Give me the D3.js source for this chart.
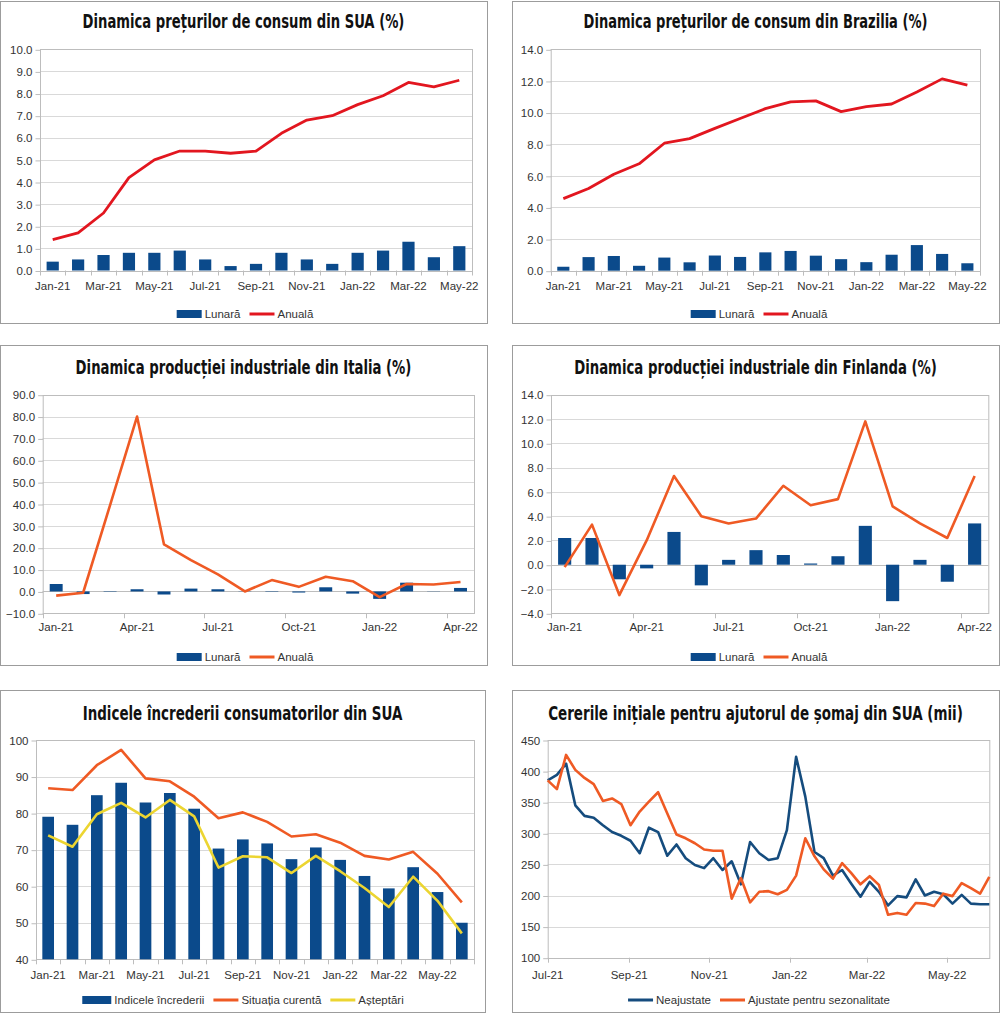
<!DOCTYPE html>
<html><head><meta charset="utf-8">
<script src="https://cdn.jsdelivr.net/npm/d3@7"></script>
<style>
body{margin:0;background:#fff;}
svg{display:block;font-family:"Liberation Sans",Arial,sans-serif;}
</style></head><body>
<svg id="c" width="1000" height="1013"></svg>
<script>
// ---------- DATA ----------
const usMonths = ["Jan-21","Feb-21","Mar-21","Apr-21","May-21","Jun-21","Jul-21","Aug-21","Sep-21","Oct-21","Nov-21","Dec-21","Jan-22","Feb-22","Mar-22","Apr-22","May-22"];
const usMonthly = [0.4,0.5,0.7,0.8,0.8,0.9,0.5,0.2,0.3,0.8,0.5,0.3,0.8,0.9,1.3,0.6,1.1];
const usAnnual  = [1.4,1.7,2.6,4.2,5.0,5.4,5.4,5.3,5.4,6.2,6.8,7.0,7.5,7.9,8.5,8.3,8.6];
const usYTicks  = [0,1,2,3,4,5,6,7,8,9,10];

const brMonths  = usMonths;
const brMonthly = [0.25,0.86,0.93,0.31,0.83,0.53,0.96,0.87,1.16,1.25,0.95,0.73,0.54,1.01,1.62,1.06,0.47];
const brAnnual  = [4.56,5.20,6.10,6.76,8.06,8.35,9.0,9.62,10.25,10.67,10.74,10.06,10.38,10.54,11.30,12.13,11.73];
const brYTicks  = [0,2,4,6,8,10,12,14];

const itMonths  = ["Jan-21","Feb-21","Mar-21","Apr-21","May-21","Jun-21","Jul-21","Aug-21","Sep-21","Oct-21","Nov-21","Dec-21","Jan-22","Feb-22","Mar-22","Apr-22"];
const itMonthly = [3.4,-1.2,0.2,1.0,-1.4,1.3,1.0,0.1,0.2,-0.5,1.9,-1.0,-3.4,4.0,0.1,1.6];
const itAnnual  = [-1.9,-0.6,39.5,80.0,21.5,14.3,7.8,0.0,5.2,2.1,6.7,4.7,-2.6,3.4,3.2,4.3];
const itYTicks  = [-10,0,10,20,30,40,50,60,70,80,90];

const fiMonths  = itMonths;
const fiMonthly = [2.2,2.2,-1.2,-0.3,2.7,-1.7,0.4,1.2,0.8,0.1,0.7,3.2,-3.0,0.4,-1.4,3.4];
const fiAnnual  = [-0.2,3.3,-2.5,2.0,7.3,4.0,3.4,3.8,6.5,4.9,5.4,11.8,4.8,3.4,2.2,7.3];
const fiYTicks  = [-4,-2,0,2,4,6,8,10,12,14];

const ccMonths  = ["Jan-21","Feb-21","Mar-21","Apr-21","May-21","Jun-21","Jul-21","Aug-21","Sep-21","Oct-21","Nov-21","Dec-21","Jan-22","Feb-22","Mar-22","Apr-22","May-22","Jun-22"];
const ccIndex   = [79.0,76.8,84.9,88.3,82.9,85.5,81.2,70.3,72.8,71.7,67.4,70.6,67.2,62.8,59.4,65.2,58.4,50.0];
const ccPresent = [86.8,86.3,93.1,97.3,89.5,88.7,84.5,78.6,80.2,77.6,73.6,74.2,71.9,68.3,67.3,69.4,63.4,55.6];
const ccExpect  = [73.9,70.8,79.7,82.8,78.8,83.6,79.1,65.1,68.2,67.9,63.6,68.3,64.1,59.5,54.3,62.6,56.0,47.1];
const ccYTicks  = [40,50,60,70,80,90,100];

const claimDates = ["2021-07-01","2021-07-08","2021-07-15","2021-07-22","2021-07-29",
  "2021-08-05","2021-08-12","2021-08-19","2021-08-26",
  "2021-09-02","2021-09-09","2021-09-16","2021-09-23","2021-09-30",
  "2021-10-07","2021-10-14","2021-10-21","2021-10-28",
  "2021-11-04","2021-11-11","2021-11-18","2021-11-25",
  "2021-12-02","2021-12-09","2021-12-16","2021-12-23","2021-12-30",
  "2022-01-06","2022-01-13","2022-01-20","2022-01-27",
  "2022-02-03","2022-02-10","2022-02-17","2022-02-24",
  "2022-03-03","2022-03-10","2022-03-17","2022-03-24","2022-03-31",
  "2022-04-07","2022-04-14","2022-04-21","2022-04-28",
  "2022-05-05","2022-05-12","2022-05-19","2022-05-26",
  "2022-06-02"];
const claimsNSA = [385,394,412,345,328,325,313,302,296,288,268,309,302,264,282,260,249,244,260,241,255,218,286,268,257,260,305,423,359,270,260,232,241,219,198,222,206,184,199,197,226,200,206,202,187,201,187,186,186];
const claimsSA  = [385,371,426,402,389,379,352,356,347,313,335,351,366,332,298,292,284,274,272,272,195,228,189,206,207,202,209,232,292,263,242,227,252,236,218,231,217,169,172,169,188,187,183,203,199,220,212,203,230];
const claimTickDates  = ["2021-07-01","2021-09-01","2021-11-01","2022-01-01","2022-03-01","2022-05-01"];
const claimTickLabels = ["Jul-21","Sep-21","Nov-21","Jan-22","Mar-22","May-22"];
const claimYTicks = [100,150,200,250,300,350,400,450];

// ---------- STYLE ----------
const BLUE = "#0b4a8b", RED = "#e2161f", ORANGE = "#ef5a24", YELLOW = "#ecd531", NAVY = "#154c7e";
const GRID = "#d9d9d9", FRAME = "#bdbdbd", BOX = "#9c9c9c", TXT = "#333";
const TITLE_FONT = '"Liberation Sans Narrow","Arial Narrow","DejaVu Sans Condensed",sans-serif';

const svg = d3.select("#c");

function drawPanel(o){
  const g = svg.append("g");
  const [bx,by,bw,bh] = o.box;
  g.append("rect").attr("x",bx+0.5).attr("y",by+0.5).attr("width",bw).attr("height",bh)
    .attr("fill","#fff").attr("stroke",BOX).attr("stroke-width",1);
  // title (horizontally condensed to match the reference's narrow face)
  const t = g.append("text").attr("x",0).attr("y",0)
    .attr("text-anchor","middle").attr("font-family",TITLE_FONT).attr("font-weight","bold")
    .attr("font-size",19).attr("fill","#111").text(o.title);
  const nat = t.node().getComputedTextLength();
  const sx = Math.min(1, o.titleW / nat);
  t.attr("transform",`translate(${bx+bw/2},${o.titleY}) scale(${sx},1)`);

  const [L,T,R,B] = o.plot;
  const y = d3.scaleLinear().domain(o.yDomain).range([B,T]);
  // grid
  g.append("g").selectAll("line").data(o.yTicks).join("line")
    .attr("x1",L).attr("x2",R).attr("y1",d=>Math.round(y(d))+0.5).attr("y2",d=>Math.round(y(d))+0.5)
    .attr("stroke",GRID).attr("stroke-width",1);
  // frame
  g.append("rect").attr("x",L+0.5).attr("y",Math.round(T)+0.5).attr("width",R-L).attr("height",Math.round(B)-Math.round(T))
    .attr("fill","none").attr("stroke",FRAME);
  // y axis ticks & labels
  const yAxis = d3.axisLeft(y).tickValues(o.yTicks).tickSize(5).tickPadding(3).tickFormat(o.yFormat);
  const ya = g.append("g").attr("transform",`translate(${L+0.5},0.5)`).call(yAxis);
  ya.select(".domain").remove();
  ya.selectAll("line").attr("stroke",FRAME);
  ya.selectAll("text").attr("font-size",11.5).attr("fill",TXT).attr("font-family","'Liberation Sans',Arial,sans-serif");

  let xPos, xs;
  if (o.categories){
    xs = d3.scaleBand().domain(o.categories).range([L,R]).paddingInner(0.52).paddingOuter(0.26);
    xPos = (c)=> xs(c) + xs.bandwidth()/2;
    const step = xs.step();
    const tickIdx = d3.range(0, o.categories.length+1, o.tickEvery);
    g.append("g").selectAll("line").data(tickIdx).join("line")
      .attr("x1",i=>Math.round(L+i*step)+0.5).attr("x2",i=>Math.round(L+i*step)+0.5)
      .attr("y1",B).attr("y2",B+5).attr("stroke",FRAME);
    g.append("g").selectAll("text").data(o.categories.filter((c,i)=>i%o.labelEvery===0)).join("text")
      .attr("x",c=>xPos(c)).attr("y",o.xLabelY).attr("text-anchor","middle")
      .attr("font-size",11.5).attr("fill",TXT).text(c=>c);
    if (o.yDomain[0] < 0){
      g.append("line").attr("x1",L).attr("x2",R).attr("y1",Math.round(y(0))+0.5).attr("y2",Math.round(y(0))+0.5)
        .attr("stroke",FRAME);
    }
    (o.bars||[]).forEach(s=>{
      g.append("g").selectAll("rect").data(s.values).join("rect")
        .attr("x",(d,i)=>xs(o.categories[i])).attr("width",xs.bandwidth())
        .attr("y",d=>y(Math.max(d, o.barBase)))
        .attr("height",d=>Math.abs(y(d)-y(o.barBase)))
        .attr("fill",s.color);
    });
    (o.lines||[]).forEach(s=>{
      const line = d3.line().x((d,i)=>xPos(o.categories[i])).y(d=>y(d));
      g.append("path").datum(s.values).attr("d",line).attr("fill","none")
        .attr("stroke",s.color).attr("stroke-width",s.width||2.6).attr("stroke-linejoin","round");
    });
  } else {
    const parse = d3.timeParse("%Y-%m-%d");
    const dates = o.dates.map(parse);
    const xt = d3.scaleTime().domain(d3.extent(dates)).range([L,R]);
    const tds = o.tickDates.map(parse);
    g.append("g").selectAll("line").data(tds).join("line")
      .attr("x1",d=>Math.round(xt(d))+0.5).attr("x2",d=>Math.round(xt(d))+0.5)
      .attr("y1",B).attr("y2",B+5).attr("stroke",FRAME);
    g.append("g").selectAll("text").data(tds).join("text")
      .attr("x",d=>xt(d)).attr("y",o.xLabelY).attr("text-anchor","middle")
      .attr("font-size",11.5).attr("fill",TXT).text((d,i)=>o.tickLabels[i]);
    (o.lines||[]).forEach(s=>{
      const line = d3.line().x((d,i)=>xt(dates[i])).y(d=>y(d));
      g.append("path").datum(s.values).attr("d",line).attr("fill","none")
        .attr("stroke",s.color).attr("stroke-width",s.width||2.6).attr("stroke-linejoin","round");
    });
  }

  // legend
  const lg = g.append("g");
  let cx = 0;
  o.legend.forEach(it=>{
    const sw = it.sw||25;
    const ig = lg.append("g").attr("transform",`translate(${cx},0)`);
    if (it.type==="bar") ig.append("rect").attr("x",0).attr("y",-4).attr("width",sw).attr("height",8).attr("fill",it.color);
    else ig.append("line").attr("x1",0).attr("x2",sw).attr("y1",0).attr("y2",0).attr("stroke",it.color).attr("stroke-width",3);
    const tx = ig.append("text").attr("x",sw+3).attr("y",4).attr("font-size",11.5).attr("fill",TXT).text(it.label);
    cx += sw + 3 + tx.node().getComputedTextLength() + 9;
  });
  const total = cx - 9;
  lg.attr("transform",`translate(${o.legendCX - total/2},${o.legendY})`);
}

const f1 = d3.format(".1f"), f0 = d3.format("d");

drawPanel({box:[0,1,487,322], title:"Dinamica prețurilor de consum din SUA (%)", titleY:28, titleW:322,
  plot:[40,49.3,472,270.5], yDomain:[0,10], yTicks:usYTicks, yFormat:f1,
  categories:usMonths, tickEvery:1, labelEvery:2, xLabelY:290, barBase:0,
  bars:[{values:usMonthly,color:BLUE}], lines:[{values:usAnnual,color:RED,width:2.8}],
  legend:[{type:"bar",color:BLUE,label:"Lunară"},{type:"line",color:RED,label:"Anuală"}], legendCX:245, legendY:314});

drawPanel({box:[512,1,487,322], title:"Dinamica prețurilor de consum din Brazilia (%)", titleY:28, titleW:344,
  plot:[550.7,49.3,980,270.7], yDomain:[0,14], yTicks:brYTicks, yFormat:f1,
  categories:brMonths, tickEvery:1, labelEvery:2, xLabelY:290, barBase:0,
  bars:[{values:brMonthly,color:BLUE}], lines:[{values:brAnnual,color:RED,width:2.8}],
  legend:[{type:"bar",color:BLUE,label:"Lunară"},{type:"line",color:RED,label:"Anuală"}], legendCX:759, legendY:314});

drawPanel({box:[0,345,487,320], title:"Dinamica producției industriale din Italia (%)", titleY:374, titleW:336,
  plot:[42.7,394.7,474,613.3], yDomain:[-10,90], yTicks:itYTicks, yFormat:f1,
  categories:itMonths, tickEvery:3, labelEvery:3, xLabelY:631, barBase:0,
  bars:[{values:itMonthly,color:BLUE}], lines:[{values:itAnnual,color:ORANGE,width:2.6}],
  legend:[{type:"bar",color:BLUE,label:"Lunară"},{type:"line",color:ORANGE,label:"Anuală"}], legendCX:245, legendY:657});

drawPanel({box:[512,345,487,320], title:"Dinamica producției industriale din Finlanda (%)", titleY:374, titleW:363,
  plot:[551,394.7,988.3,613.3], yDomain:[-4,14], yTicks:fiYTicks, yFormat:f1,
  categories:fiMonths, tickEvery:3, labelEvery:3, xLabelY:631, barBase:0,
  bars:[{values:fiMonthly,color:BLUE}], lines:[{values:fiAnnual,color:ORANGE,width:2.6}],
  legend:[{type:"bar",color:BLUE,label:"Lunară"},{type:"line",color:ORANGE,label:"Anuală"}], legendCX:759, legendY:657});

drawPanel({box:[0,690,485,322], title:"Indicele încrederii consumatorilor din SUA", titleY:720, titleW:320,
  plot:[36,740,474,959.3], yDomain:[40,100], yTicks:ccYTicks, yFormat:f0,
  categories:ccMonths, tickEvery:1, labelEvery:2, xLabelY:979, barBase:40,
  bars:[{values:ccIndex,color:BLUE}],
  lines:[{values:ccPresent,color:ORANGE,width:2.6},{values:ccExpect,color:YELLOW,width:2.6}],
  legend:[{type:"bar",color:BLUE,label:"Indicele încrederii",sw:29},{type:"line",color:ORANGE,label:"Situația curentă"},{type:"line",color:YELLOW,label:"Așteptări"}], legendCX:243, legendY:1000});

drawPanel({box:[512,690,487,322], title:"Cererile inițiale pentru ajutorul de șomaj din SUA (mii)", titleY:720, titleW:415,
  plot:[547.7,740,989.3,957.7], yDomain:[100,450], yTicks:claimYTicks, yFormat:f0,
  dates:claimDates, tickDates:claimTickDates, tickLabels:claimTickLabels, xLabelY:979,
  lines:[{values:claimsNSA,color:NAVY,width:2.6},{values:claimsSA,color:ORANGE,width:2.6}],
  legend:[{type:"line",color:NAVY,label:"Neajustate"},{type:"line",color:ORANGE,label:"Ajustate pentru sezonalitate"}], legendCX:759, legendY:1000});
</script>
</body></html>
